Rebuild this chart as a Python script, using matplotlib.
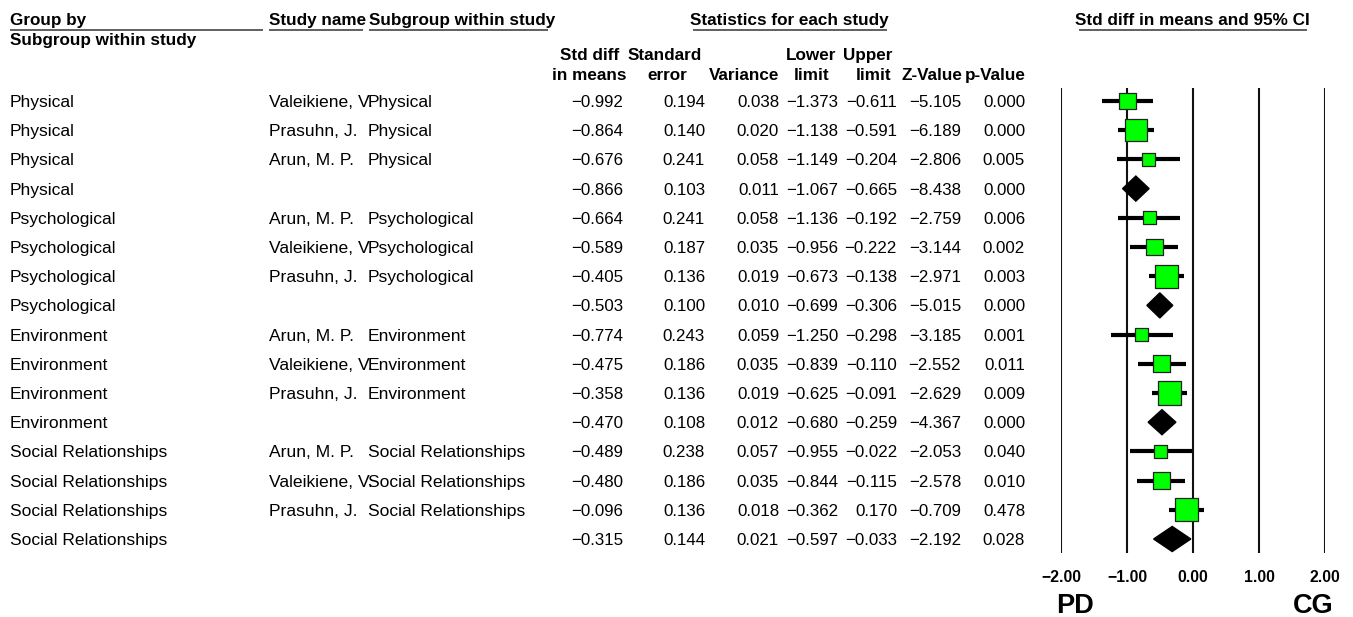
import matplotlib
matplotlib.use("Agg")
import matplotlib.pyplot as plt
import matplotlib.transforms as mtransforms
import numpy as np

plt.rcParams['font.family'] = ['Liberation Sans', 'DejaVu Sans']

# ---------------- data ----------------
groups = ['Physical'] * 4 + ['Psychological'] * 4 + ['Environment'] * 4 + ['Social Relationships'] * 4
studies = ['Valeikiene, V.', 'Prasuhn, J.', 'Arun, M. P.', '',
           'Arun, M. P.', 'Valeikiene, V.', 'Prasuhn, J.', '',
           'Arun, M. P.', 'Valeikiene, V.', 'Prasuhn, J.', '',
           'Arun, M. P.', 'Valeikiene, V.', 'Prasuhn, J.', '']
is_summary = [s == '' for s in studies]
smd = [-0.992, -0.864, -0.676, -0.866, -0.664, -0.589, -0.405, -0.503,
       -0.774, -0.475, -0.358, -0.470, -0.489, -0.480, -0.096, -0.315]
se = [0.194, 0.140, 0.241, 0.103, 0.241, 0.187, 0.136, 0.100,
      0.243, 0.186, 0.136, 0.108, 0.238, 0.186, 0.136, 0.144]
variance = [0.038, 0.020, 0.058, 0.011, 0.058, 0.035, 0.019, 0.010,
            0.059, 0.035, 0.019, 0.012, 0.057, 0.035, 0.018, 0.021]
lower = [-1.373, -1.138, -1.149, -1.067, -1.136, -0.956, -0.673, -0.699,
         -1.250, -0.839, -0.625, -0.680, -0.955, -0.844, -0.362, -0.597]
upper = [-0.611, -0.591, -0.204, -0.665, -0.192, -0.222, -0.138, -0.306,
         -0.298, -0.110, -0.091, -0.259, -0.022, -0.115, 0.170, -0.033]
zval = [-5.105, -6.189, -2.806, -8.438, -2.759, -3.144, -2.971, -5.015,
        -3.185, -2.552, -2.629, -4.367, -2.053, -2.578, -0.709, -2.192]
pval = [0.000, 0.000, 0.005, 0.000, 0.006, 0.002, 0.003, 0.000,
        0.001, 0.011, 0.009, 0.000, 0.040, 0.010, 0.478, 0.028]
xticks = [-2.0, -1.0, 0.0, 1.0, 2.0]
left_label = 'PD'
right_label = 'CG'

# ---------------- layout ----------------
W, H = 1353, 617
DPI = 100
fig = plt.figure(figsize=(W / DPI, H / DPI), dpi=DPI)
fig.patch.set_facecolor('white')

tab = fig.add_axes([0, 0, 1, 1])
tab.set_xlim(0, W)
tab.set_ylim(H, 0)
tab.axis('off')

row0, dy = 107.0, 29.2   # baseline of first row, row spacing (px)
n = len(smd)
fs_row = 12.6
fs_num = 12.2
fs_head = 12.3

def fmt(v):
    return f"{v:.3f}".replace('-', '\u2212')

# header line 1
head_y1 = 25
tab.text(10, head_y1, 'Group by', fontsize=fs_head, fontweight='bold', va='baseline', ha='left')
tab.text(269, head_y1, 'Study name', fontsize=fs_head, fontweight='bold', va='baseline', ha='left')
tab.text(369, head_y1, 'Subgroup within study', fontsize=fs_head, fontweight='bold', va='baseline', ha='left')
tab.text(789, head_y1, 'Statistics for each study', fontsize=fs_head, fontweight='bold', va='baseline', ha='center')
tab.text(1192, head_y1, 'Std diff in means and 95% CI', fontsize=fs_head, fontweight='bold', va='baseline', ha='center')
for x0, x1 in [(10, 263), (269, 363), (369, 548), (693, 887), (1079, 1307)]:
    tab.plot([x0, x1], [29.5, 29.5], color='#444444', lw=1.2, solid_capstyle='butt')
tab.text(10, 45, 'Subgroup within study', fontsize=fs_head, fontweight='bold', va='baseline', ha='left')

# column headers
col_right = [623, 705, 779, 838, 897, 961, 1025]
hdr1 = [(590, 'Std diff'), (665, 'Standard'), (811, 'Lower'), (868, 'Upper')]
hdr2 = [(589, 'in means'), (667, 'error'), (744, 'Variance'), (812, 'limit'),
        (874, 'limit')]
for x, t in hdr1:
    tab.text(x, 60, t, fontsize=fs_head, fontweight='bold', va='baseline', ha='center')
for x, t in hdr2:
    tab.text(x, 80, t, fontsize=fs_head, fontweight='bold', va='baseline', ha='center')
tab.text(962, 80, 'Z-Value', fontsize=fs_head, fontweight='bold', va='baseline', ha='right')
tab.text(1026, 80, 'p-Value', fontsize=fs_head, fontweight='bold', va='baseline', ha='right')

# table rows
for i in range(n):
    yb = row0 + dy * i
    tab.text(10, yb, groups[i], fontsize=fs_row, va='baseline', ha='left')
    if not is_summary[i]:
        tab.text(269, yb, studies[i], fontsize=fs_row, va='baseline', ha='left')
        tab.text(368, yb, groups[i], fontsize=fs_row, va='baseline', ha='left')
    vals = [smd[i], se[i], variance[i], lower[i], upper[i], zval[i], pval[i]]
    for xr, v in zip(col_right, vals):
        tab.text(xr, yb, fmt(v), fontsize=fs_num, va='baseline', ha='right')

# ---------------- forest plot ----------------
x_left, x_right = 1061, 1325
y_top, y_bot = 88, 553
ax = fig.add_axes([x_left / W, 1 - y_bot / H, (x_right - x_left) / W, (y_bot - y_top) / H])
ax.set_xlim(xticks[0], xticks[-1])
center0 = row0 - 6.0
ax.set_ylim((y_bot - center0) / dy, (y_top - center0) / dy)
ax.axis('off')
ax.patch.set_alpha(0)

for xt in xticks:
    ax.axvline(xt, color='#111111', lw=1.5, zorder=1)

ypos = np.arange(n)
smd_a = np.array(smd)
se_a = np.array(se)
lo_a = np.array(lower)
up_a = np.array(upper)
summ = np.array(is_summary)
stud = ~summ

ax.hlines(ypos[stud], lo_a[stud], up_a[stud], color='black', lw=3.0, zorder=2, clip_on=False)
side_pt = (3.15 / se_a[stud]) * 72.0 / DPI
ax.scatter(smd_a[stud], ypos[stud], marker='s', s=side_pt ** 2, c='#00FF00',
           edgecolors='#222222', linewidths=0.9, zorder=3, clip_on=False)

hh = 0.43
for i in np.where(summ)[0]:
    ax.fill([lo_a[i], smd_a[i], up_a[i], smd_a[i]],
            [ypos[i], ypos[i] - hh, ypos[i], ypos[i] + hh],
            color='black', zorder=3, clip_on=False)

# tick labels
blend = mtransforms.blended_transform_factory(ax.transData, tab.transData)
for xt in xticks:
    tab.text(xt, 582, f"{xt:.2f}".replace('-', '\u2212'),
             transform=blend, fontsize=11.3, fontweight='bold', ha='center', va='baseline')

tab.text(1075, 613, left_label, fontsize=19.5, fontweight='bold', ha='center', va='baseline')
tab.text(1313, 613, right_label, fontsize=19.5, fontweight='bold', ha='center', va='baseline')

fig.savefig('out.png', dpi=DPI, facecolor='white')
